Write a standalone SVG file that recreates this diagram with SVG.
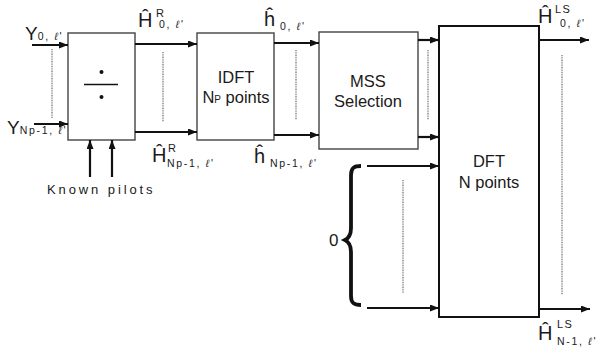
<svg xmlns="http://www.w3.org/2000/svg" width="604" height="360" viewBox="0 0 604 360">
<style>
.box{fill:#fff;stroke:#444;stroke-width:1.4}
.dft{fill:#fff;stroke:#111;stroke-width:2}
.arr{stroke:#111;stroke-width:2.2;fill:none;marker-end:url(#ah)}
.dot{stroke:#8c8c8c;stroke-width:1.5;stroke-dasharray:1 0.7;fill:none}
text{font-family:"Liberation Sans",Arial,sans-serif;fill:#1a1a1a}
.big{font-size:20px}
.lbl{font-size:16.5px;text-anchor:middle}
.sub{font-size:10.5px;letter-spacing:1.7px}
.sup{font-size:11px;letter-spacing:1.5px}
.ell{font-style:italic}
</style>
<defs>
<marker id="ah" markerWidth="10" markerHeight="8" refX="9" refY="3.5" orient="auto" markerUnits="userSpaceOnUse">
<path d="M0,0 L9,3.5 L0,7 z" fill="#111"/>
</marker>
</defs>

<g id="divider">
<rect class="box" x="68" y="33" width="67" height="107"/>
<circle cx="101.5" cy="72" r="2" fill="#111"/>
<line x1="84" y1="84.5" x2="118" y2="84.5" stroke="#111" stroke-width="1.4"/>
<circle cx="101.5" cy="97" r="2" fill="#111"/>
</g>

<g id="idft">
<rect class="box" x="197" y="33" width="77" height="107"/>
<text class="lbl" x="236" y="83">IDFT</text>
<text class="lbl" x="236" y="103">N<tspan font-size="10px">P</tspan> points</text>
</g>

<g id="mss">
<rect class="box" x="319" y="32" width="99" height="117"/>
<text class="lbl" x="368" y="87">MSS</text>
<text class="lbl" x="368" y="107">Selection</text>
</g>

<g id="dft">
<rect class="dft" x="439" y="26" width="100" height="291"/>
<text class="lbl" x="489" y="167">DFT</text>
<text class="lbl" x="489" y="188">N points</text>
</g>

<g id="zero">
<path d="M361,166 C354,166 351,168 351,175 L351,228 C351,235 349,238 345,240 C349,242 351,245 351,252 L351,296 C351,303 354,305 361,305" fill="none" stroke="#111" stroke-width="3.8"/>
<text x="329" y="246" font-size="17px">0</text>
</g>

<g id="connectors">
<line class="arr" x1="32" y1="45" x2="68" y2="45"/>
<line class="arr" x1="34" y1="124" x2="68" y2="124"/>
<line class="arr" x1="135" y1="44" x2="197" y2="44"/>
<line class="arr" x1="135" y1="132" x2="197" y2="132"/>
<line class="arr" x1="274" y1="43" x2="319" y2="43"/>
<line class="arr" x1="274" y1="135" x2="319" y2="135"/>
<line class="arr" x1="418" y1="40" x2="439" y2="40"/>
<line class="arr" x1="418" y1="137" x2="439" y2="137"/>
<line class="arr" x1="367" y1="166" x2="439" y2="166"/>
<line class="arr" x1="367" y1="308" x2="439" y2="308"/>
<line class="arr" x1="539" y1="40" x2="589" y2="40"/>
<line class="arr" x1="539" y1="309" x2="590" y2="309"/>
<line class="arr" x1="90" y1="177" x2="90" y2="140"/>
<line class="arr" x1="112" y1="177" x2="112" y2="140"/>
<line class="dot" x1="52" y1="49" x2="52" y2="118"/>
<line class="dot" x1="163" y1="52" x2="163" y2="122"/>
<line class="dot" x1="296" y1="50" x2="296" y2="120"/>
<line class="dot" x1="428" y1="50" x2="428" y2="120"/>
<line class="dot" x1="403" y1="180" x2="403" y2="293"/>
<line class="dot" x1="562" y1="55" x2="562" y2="295"/>
</g>

<g id="labels">
<text x="25" y="40" font-size="19px">Y<tspan class="sub">0, <tspan class="ell">ℓ</tspan>'</tspan></text>
<text x="7" y="134" font-size="19px">Y<tspan class="sub">Np-1, <tspan class="ell">ℓ</tspan>'</tspan></text>
<text class="big" x="138" y="27">Ĥ</text>
<text class="sup" x="156" y="17">R</text>
<text class="sub" x="159" y="28">0, <tspan class="ell">ℓ</tspan>'</text>
<text class="big" x="152" y="162">Ĥ</text>
<text class="sup" x="168" y="152">R</text>
<text class="sub" x="167" y="167">Np-1, <tspan class="ell">ℓ</tspan>'</text>
<text class="big" x="264" y="26">ĥ</text>
<text class="sub" x="280" y="30">0, <tspan class="ell">ℓ</tspan>'</text>
<text class="big" x="254" y="163">ĥ</text>
<text class="sub" x="270" y="167">Np-1, <tspan class="ell">ℓ</tspan>'</text>
<text class="big" x="538" y="23">Ĥ</text>
<text class="sup" x="555" y="13">LS</text>
<text class="sub" x="560" y="27">0, <tspan class="ell">ℓ</tspan>'</text>
<text class="big" x="538" y="340">Ĥ</text>
<text class="sup" x="557" y="328">LS</text>
<text class="sub" x="557" y="345" letter-spacing="3px">N-1, <tspan class="ell">ℓ</tspan>'</text>
<text x="47" y="194" font-size="13px" letter-spacing="2.9px">Known pilots</text>
</g>
</svg>
